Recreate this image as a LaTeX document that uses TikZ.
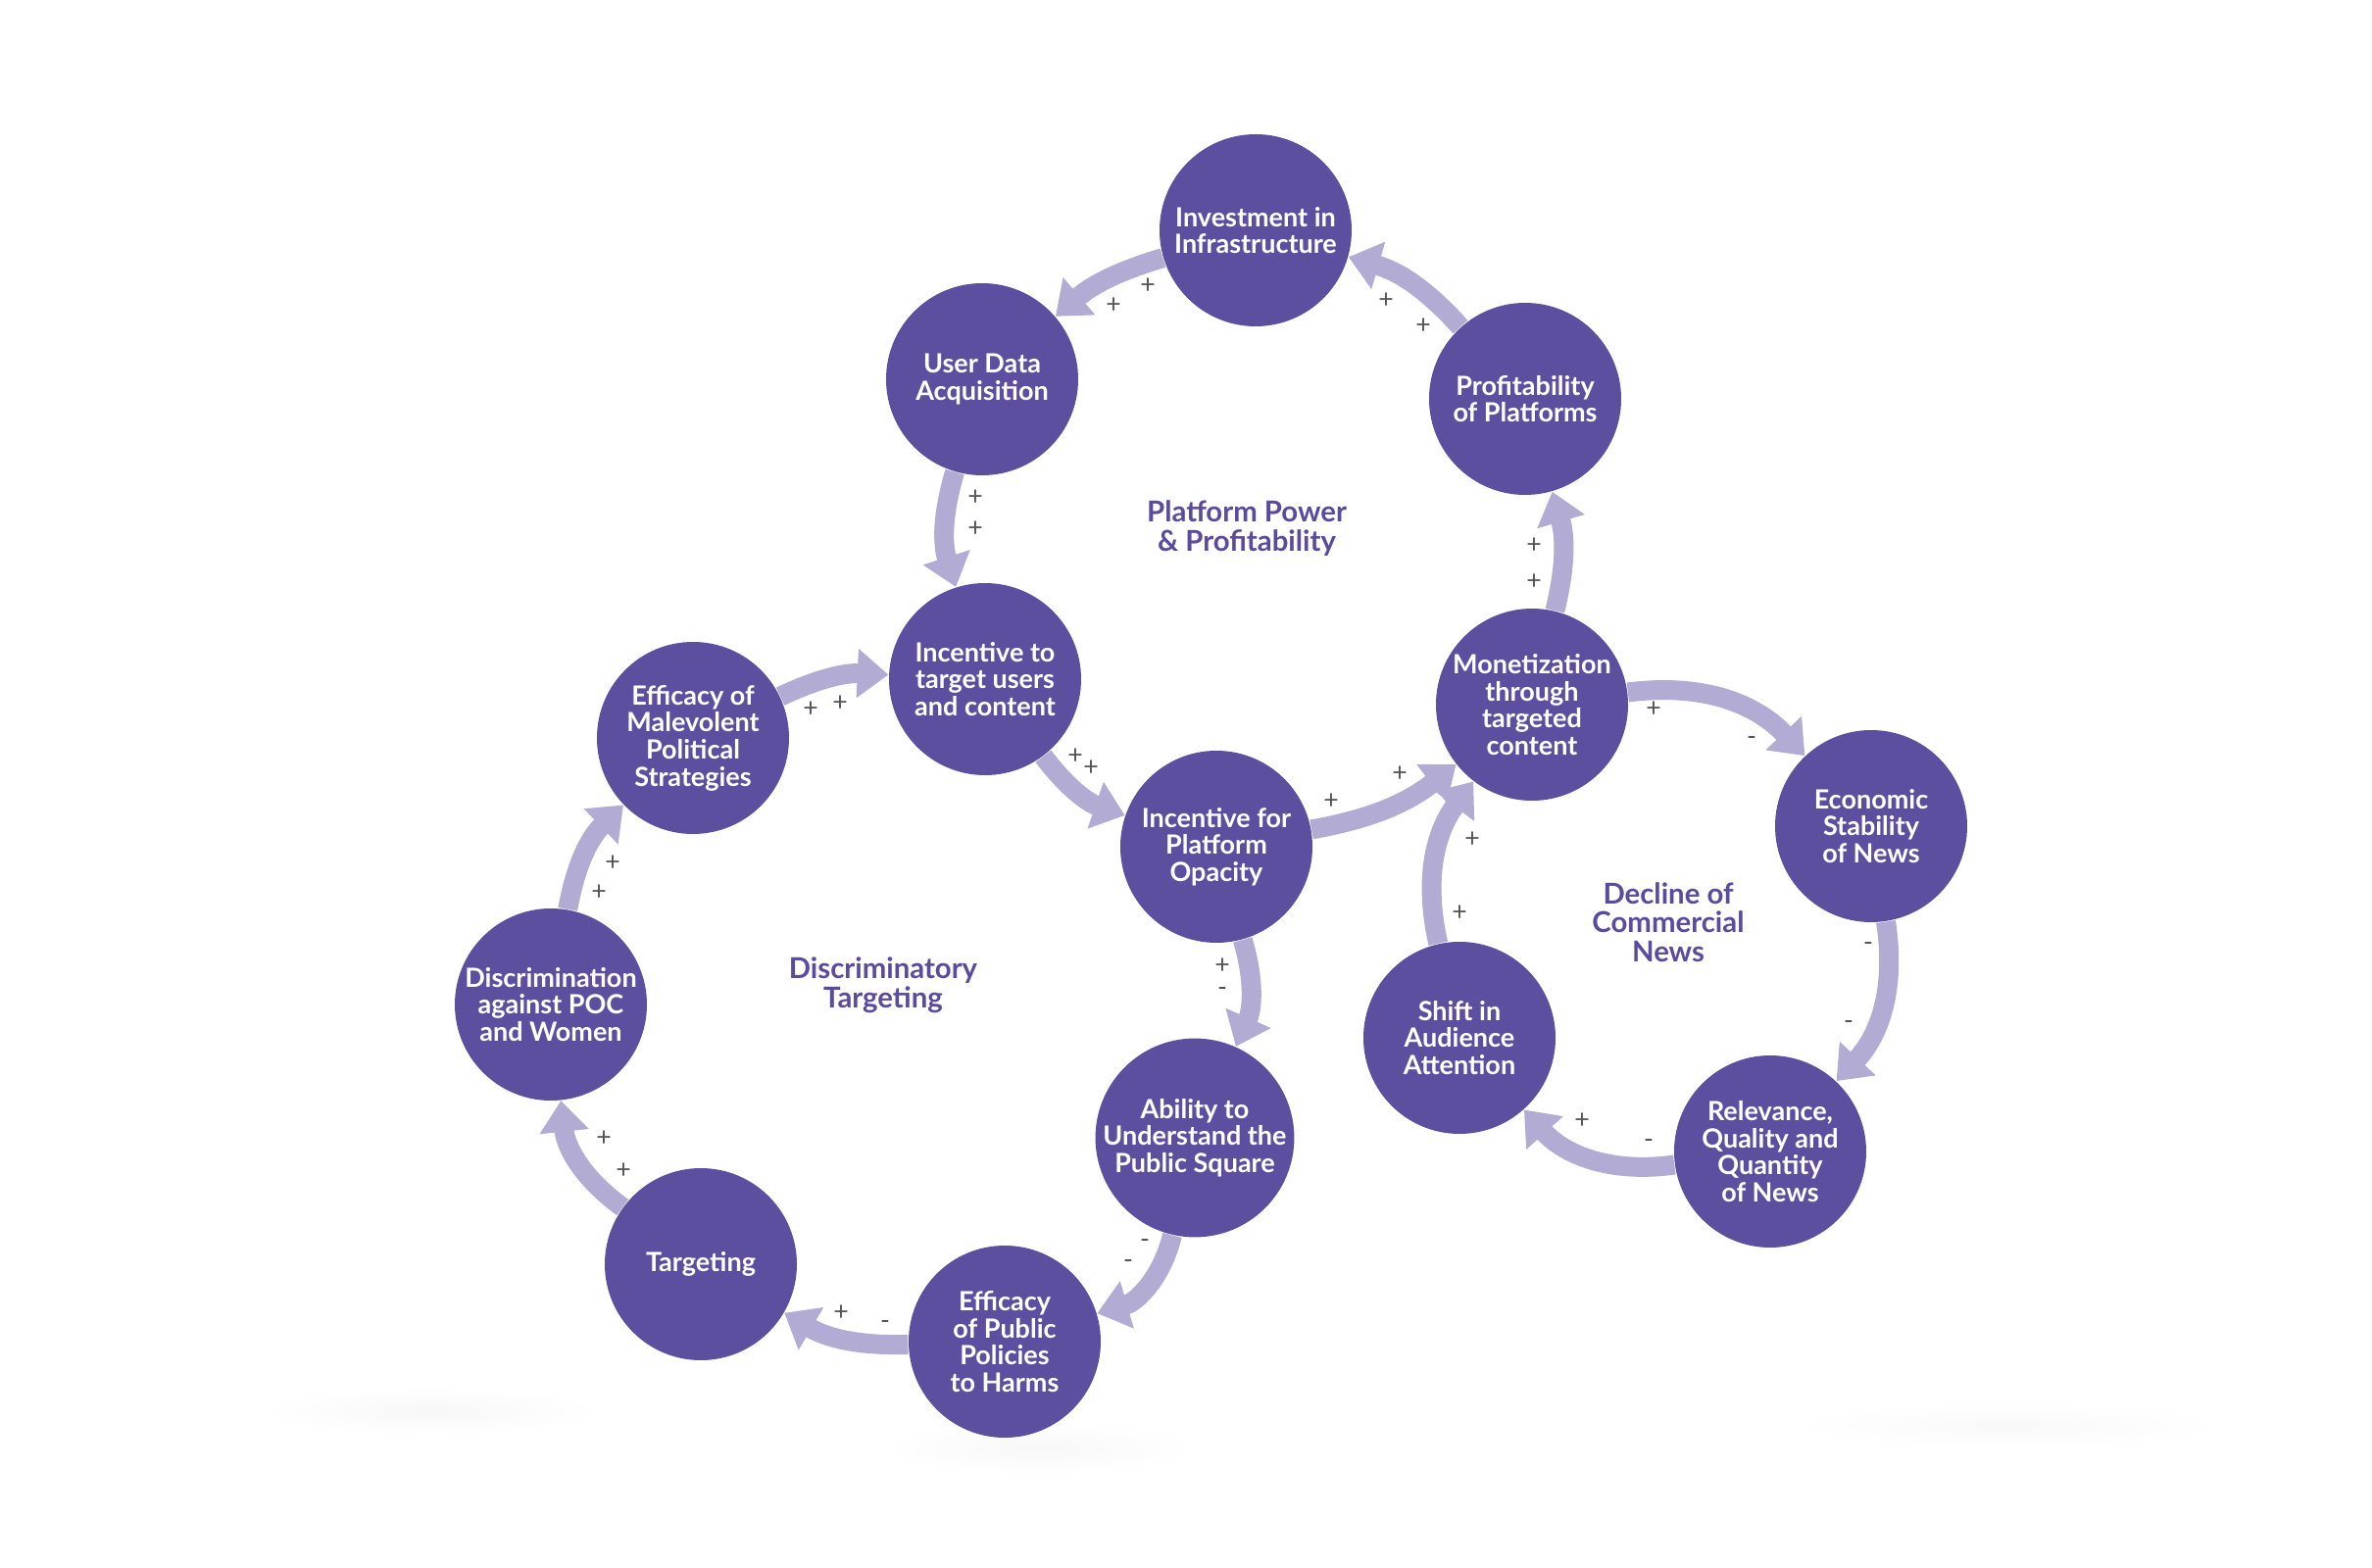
\documentclass[tikz,border=0pt]{standalone}
\usepackage{fontspec}
\setmainfont{Lato}
\usetikzlibrary{arrows.meta,backgrounds}
\definecolor{nodefill}{HTML}{5D4FA0}
\definecolor{arrowc}{HTML}{B2ABD4}
\definecolor{cyctext}{HTML}{5B4B9E}
\definecolor{signc}{HTML}{555555}
\begin{document}
\begin{tikzpicture}[x=0.3pt,y=0.3pt,
  var/.style={circle, fill=nodefill, minimum size=58.8pt, inner sep=0pt, text=white,
    align=center, font=\bfseries\fontsize{8.1}{8.3}\selectfont},
  cyc/.style={text=cyctext, align=center, font=\bfseries\fontsize{8.8}{8.9}\selectfont},
  sgn/.style={text=signc, inner sep=0pt, font=\fontsize{8}{8}\selectfont},
  arr/.style={draw=arrowc, line width=6pt, -{Triangle[width=14.5pt,length=9.5pt]}}]
\useasboundingbox (0,0) rectangle (2420,-1600);
% nodes
\node[var] (inv) at (1281,-235) {Investment in\\Infrastructure};
\node[var] (uda) at (1002,-387) {User Data\\Acquisition};
\node[var] (prof) at (1556,-407) {Profitability\\of Platforms};
\node[var] (itu) at (1005,-693) {Incentive to\\target users\\and content};
\node[var] (mon) at (1563,-719) {Monetization\\through\\targeted\\content};
\node[var] (mal) at (707,-753) {Efficacy of\\Malevolent\\Political\\Strategies};
\node[var] (ipo) at (1241,-864) {Incentive for\\Platform\\Opacity};
\node[var] (eco) at (1909,-843) {Economic\\Stability\\of News};
\node[var] (dis) at (562,-1025) {Discrimination\\against POC\\and Women};
\node[var] (shi) at (1489,-1059) {Shift in\\Audience\\Attention};
\node[var] (abi) at (1219,-1161) {Ability to\\Understand the\\Public Square};
\node[var] (rel) at (1806,-1175) {Relevance,\\Quality and\\Quantity\\of News};
\node[var] (tar) at (715,-1290) {Targeting};
\node[var] (epp) at (1025,-1369) {Efficacy\\of Public\\Policies\\to Harms};
% cycle labels
\node[cyc] (c1) at (1272,-539) {Platform Power\\\& Profitability};
\node[cyc] (c2) at (901,-1005) {Discriminatory\\Targeting};
\node[cyc] (c3) at (1702,-941) {Decline of\\Commercial\\News};
% connectors and background
\begin{pgfonlayer}{background}
\fill[white] (0,0) rectangle (2420,-1600);
\shade[inner color=black!3, outer color=white] (440,-1440) ellipse [x radius=170, y radius=24];
\shade[inner color=black!3, outer color=white] (1060,-1478) ellipse [x radius=160, y radius=26];
\shade[inner color=black!2.5, outer color=white] (2050,-1455) ellipse [x radius=220, y radius=22];
\draw[arr] (prof) to[bend right=16] (inv);
\draw[arr] (inv) to[bend right=12] (uda);
\draw[arr] (uda) to[bend right=17] (itu);
\draw[arr] (itu) to[bend right=17] (ipo);
\draw[arr] (ipo) to[bend right=14] (mon);
\draw[arr] (mon) to[bend right=15] (prof);
\draw[arr] (mon) to[bend left=27] (eco);
\draw[arr] (eco) to[bend left=26] (rel);
\draw[arr] (rel) to[bend left=28] (shi);
\draw[arr] (shi) to[bend left=25] (mon);
\draw[arr] (ipo) to[bend left=20] (abi);
\draw[arr] (abi) to[bend left=30] (epp);
\draw[arr] (epp) to[bend left=16] (tar);
\draw[arr] (tar) to[bend left=24] (dis);
\draw[arr] (dis) to[bend left=18] (mal);
\draw[arr] (mal) to[bend left=14] (itu);
\end{pgfonlayer}
% signs
\node[sgn] (s1a) at (1414,-307) {+};
\node[sgn] (s1b) at (1452,-333) {+};
\node[sgn] (s2a) at (1171,-292) {+};
\node[sgn] (s2b) at (1136,-312) {+};
\node[sgn] (s3a) at (995,-508) {+};
\node[sgn] (s3b) at (995,-540) {+};
\node[sgn] (s4a) at (1097,-772) {+};
\node[sgn] (s4b) at (1113,-784) {+};
\node[sgn] (s5a) at (1358,-818) {+};
\node[sgn] (s5b) at (1428,-790) {+};
\node[sgn] (s6a) at (1565,-557) {+};
\node[sgn] (s6b) at (1565,-594) {+};
\node[sgn] (s7a) at (1687,-724) {+};
\node[sgn] (s7b) at (1787,-756) {-};
\node[sgn] (s8a) at (1906,-966) {-};
\node[sgn] (s8b) at (1886,-1046) {-};
\node[sgn] (s9a) at (1614,-1144) {+};
\node[sgn] (s9b) at (1682,-1167) {-};
\node[sgn] (s10a) at (1502,-857) {+};
\node[sgn] (s10b) at (1489,-932) {+};
\node[sgn] (s11a) at (1247,-986) {+};
\node[sgn] (s11b) at (1247,-1012) {-};
\node[sgn] (s12a) at (1168,-1269) {-};
\node[sgn] (s12b) at (1151,-1290) {-};
\node[sgn] (s13a) at (858,-1340) {+};
\node[sgn] (s13b) at (903,-1352) {-};
\node[sgn] (s14a) at (616,-1162) {+};
\node[sgn] (s14b) at (636,-1195) {+};
\node[sgn] (s15a) at (625,-881) {+};
\node[sgn] (s15b) at (611,-911) {+};
\node[sgn] (s16a) at (827,-724) {+};
\node[sgn] (s16b) at (857,-718) {+};
\end{tikzpicture}
\end{document}
